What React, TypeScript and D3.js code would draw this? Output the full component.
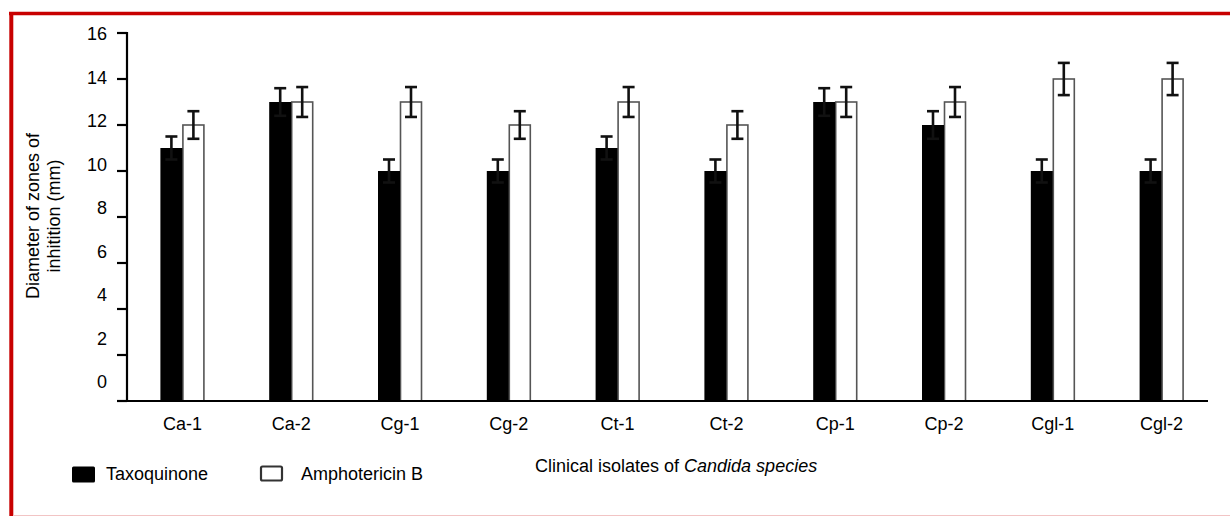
import React, { useEffect, useRef } from "react";
import * as d3 from "d3";

// isolate names and zone diameters (mm)
const isolates = ["Ca-1", "Ca-2", "Cg-1", "Cg-2", "Ct-1", "Ct-2", "Cp-1", "Cp-2", "Cgl-1", "Cgl-2"];
const taxoquinone = [11, 13, 10, 10, 11, 10, 13, 12, 10, 10];
const taxoquinoneErr = [0.5, 0.6, 0.5, 0.5, 0.5, 0.5, 0.6, 0.6, 0.5, 0.5];
const amphotericin = [12, 13, 13, 12, 13, 12, 13, 13, 14, 14];
const amphotericinErr = [0.6, 0.65, 0.65, 0.6, 0.65, 0.6, 0.65, 0.65, 0.7, 0.7];
const yTicks = [0, 2, 4, 6, 8, 10, 12, 14, 16];

const W = 1230;
const H = 516;
const FONT = "'Liberation Sans', Arial, Helvetica, sans-serif";

const App: React.FC = () => {
  const svgRef = useRef<SVGSVGElement>(null);

  useEffect(() => {
    if (!svgRef.current) return;
    const svg = d3.select(svgRef.current);
    svg.selectAll("*").remove();

    // frame
    svg.append("rect").attr("width", W).attr("height", H).attr("fill", "#fff");
    svg.append("line").attr("x1", 9).attr("x2", W).attr("y1", 13.5).attr("y2", 13.5)
      .attr("stroke", "#c80000").attr("stroke-width", 3.5);
    svg.append("line").attr("x1", 11.3).attr("x2", 11.3).attr("y1", 12).attr("y2", H)
      .attr("stroke", "#c80000").attr("stroke-width", 4);
    svg.append("line").attr("x1", 13).attr("x2", W).attr("y1", 515.5).attr("y2", 515.5)
      .attr("stroke", "#f2c4c4").attr("stroke-width", 1);

    // scales
    const y = d3.scaleLinear().domain([0, 16]).range([401, 33]);
    // the tick labels sit on a slightly compressed scale in the original
    const yLabel = d3.scaleLinear().domain([0, 16]).range([382, 34]);
    const x = d3.scaleBand<string>().domain(isolates).range([128, 1216]);
    const barW = 22;
    const cx = (d: string) => (x(d) ?? 0) + x.bandwidth() / 2;

    const g = svg.append("g");

    // bars
    const rows = isolates.map((name, i) => ({
      name,
      t: taxoquinone[i],
      te: taxoquinoneErr[i],
      a: amphotericin[i],
      ae: amphotericinErr[i],
    }));

    g.selectAll(".bar-a")
      .data(rows)
      .enter()
      .append("rect")
      .attr("x", (d) => cx(d.name) + 0.5)
      .attr("y", (d) => y(d.a))
      .attr("width", barW - 1)
      .attr("height", (d) => y(0) - y(d.a))
      .attr("fill", "#fff")
      .attr("stroke", "#555")
      .attr("stroke-width", 1.6);

    g.selectAll(".bar-t")
      .data(rows)
      .enter()
      .append("rect")
      .attr("x", (d) => cx(d.name) - barW)
      .attr("y", (d) => y(d.t))
      .attr("width", barW)
      .attr("height", (d) => y(0) - y(d.t))
      .attr("fill", "#000");

    // error bars
    const errs = rows.flatMap((d) => [
      { x: cx(d.name) - barW / 2, v: d.t, e: d.te },
      { x: cx(d.name) + barW / 2, v: d.a, e: d.ae },
    ]);
    const eb = g.selectAll(".err").data(errs).enter().append("g")
      .attr("stroke", "#111").attr("stroke-width", 2.6);
    eb.append("line")
      .attr("x1", (d) => d.x).attr("x2", (d) => d.x)
      .attr("y1", (d) => y(d.v + d.e)).attr("y2", (d) => y(d.v - d.e));
    eb.append("line")
      .attr("x1", (d) => d.x - 6).attr("x2", (d) => d.x + 6)
      .attr("y1", (d) => y(d.v + d.e)).attr("y2", (d) => y(d.v + d.e));
    eb.append("line")
      .attr("x1", (d) => d.x - 6).attr("x2", (d) => d.x + 6)
      .attr("y1", (d) => y(d.v - d.e)).attr("y2", (d) => y(d.v - d.e));

    // y axis
    const ax = svg.append("g").attr("stroke", "#000").attr("stroke-width", 2.2);
    ax.append("line").attr("x1", 127).attr("x2", 127).attr("y1", y(16) - 1).attr("y2", y(0) + 1);
    ax.selectAll(".tick")
      .data(yTicks)
      .enter()
      .append("line")
      .attr("x1", 117)
      .attr("x2", 127)
      .attr("y1", (d) => y(d))
      .attr("y2", (d) => y(d));
    // x axis
    ax.append("line").attr("x1", 117).attr("x2", 1208).attr("y1", y(0)).attr("y2", y(0));

    svg.selectAll(".ylab")
      .data(yTicks)
      .enter()
      .append("text")
      .attr("x", 107)
      .attr("y", (d) => yLabel(d))
      .attr("dy", "0.35em")
      .attr("text-anchor", "end")
      .style("font-family", FONT)
      .style("font-size", "18px")
      .style("fill", "#000")
      .text((d) => d);

    svg.selectAll(".xlab")
      .data(isolates)
      .enter()
      .append("text")
      .attr("x", (d) => cx(d))
      .attr("y", 430)
      .attr("text-anchor", "middle")
      .style("font-family", FONT)
      .style("font-size", "18px")
      .style("fill", "#000")
      .text((d) => d);

    // axis titles
    const yt = svg.append("text")
      .attr("transform", "translate(39,216) rotate(-90)")
      .attr("text-anchor", "middle")
      .style("font-family", FONT)
      .style("font-size", "18px")
      .style("fill", "#000");
    yt.append("tspan").attr("x", 0).attr("y", 0).text("Diameter of zones of");
    yt.append("tspan").attr("x", 0).attr("y", 21).text("inhitition (mm)");

    const xt = svg.append("text")
      .attr("x", 535)
      .attr("y", 472)
      .style("font-family", FONT)
      .style("font-size", "18px")
      .style("fill", "#000");
    xt.append("tspan").text("Clinical isolates of ");
    xt.append("tspan").style("font-style", "italic").text("Candida species");

    // legend
    const legend = [
      { label: "Taxoquinone", x: 72, fill: "#000", stroke: "none", tx: 106 },
      { label: "Amphotericin B", x: 261, fill: "#fff", stroke: "#333", tx: 301 },
    ];
    const lg = svg.selectAll(".leg").data(legend).enter().append("g");
    lg.append("rect")
      .attr("x", (d) => d.x)
      .attr("y", 466.5)
      .attr("width", (d) => (d.stroke === "none" ? 23 : 21))
      .attr("height", (d) => (d.stroke === "none" ? 16 : 14))
      .attr("rx", 1.5)
      .attr("fill", (d) => d.fill)
      .attr("stroke", (d) => d.stroke)
      .attr("stroke-width", 2.2);
    lg.append("text")
      .attr("x", (d) => d.tx)
      .attr("y", 480)
      .style("font-family", FONT)
      .style("font-size", "18px")
      .style("fill", "#000")
      .text((d) => d.label);
  }, []);

  return (
    <svg
      ref={svgRef}
      width={W}
      height={H}
      style={{ position: "absolute", left: 0, top: 0, display: "block" }}
    />
  );
};

export default App;
